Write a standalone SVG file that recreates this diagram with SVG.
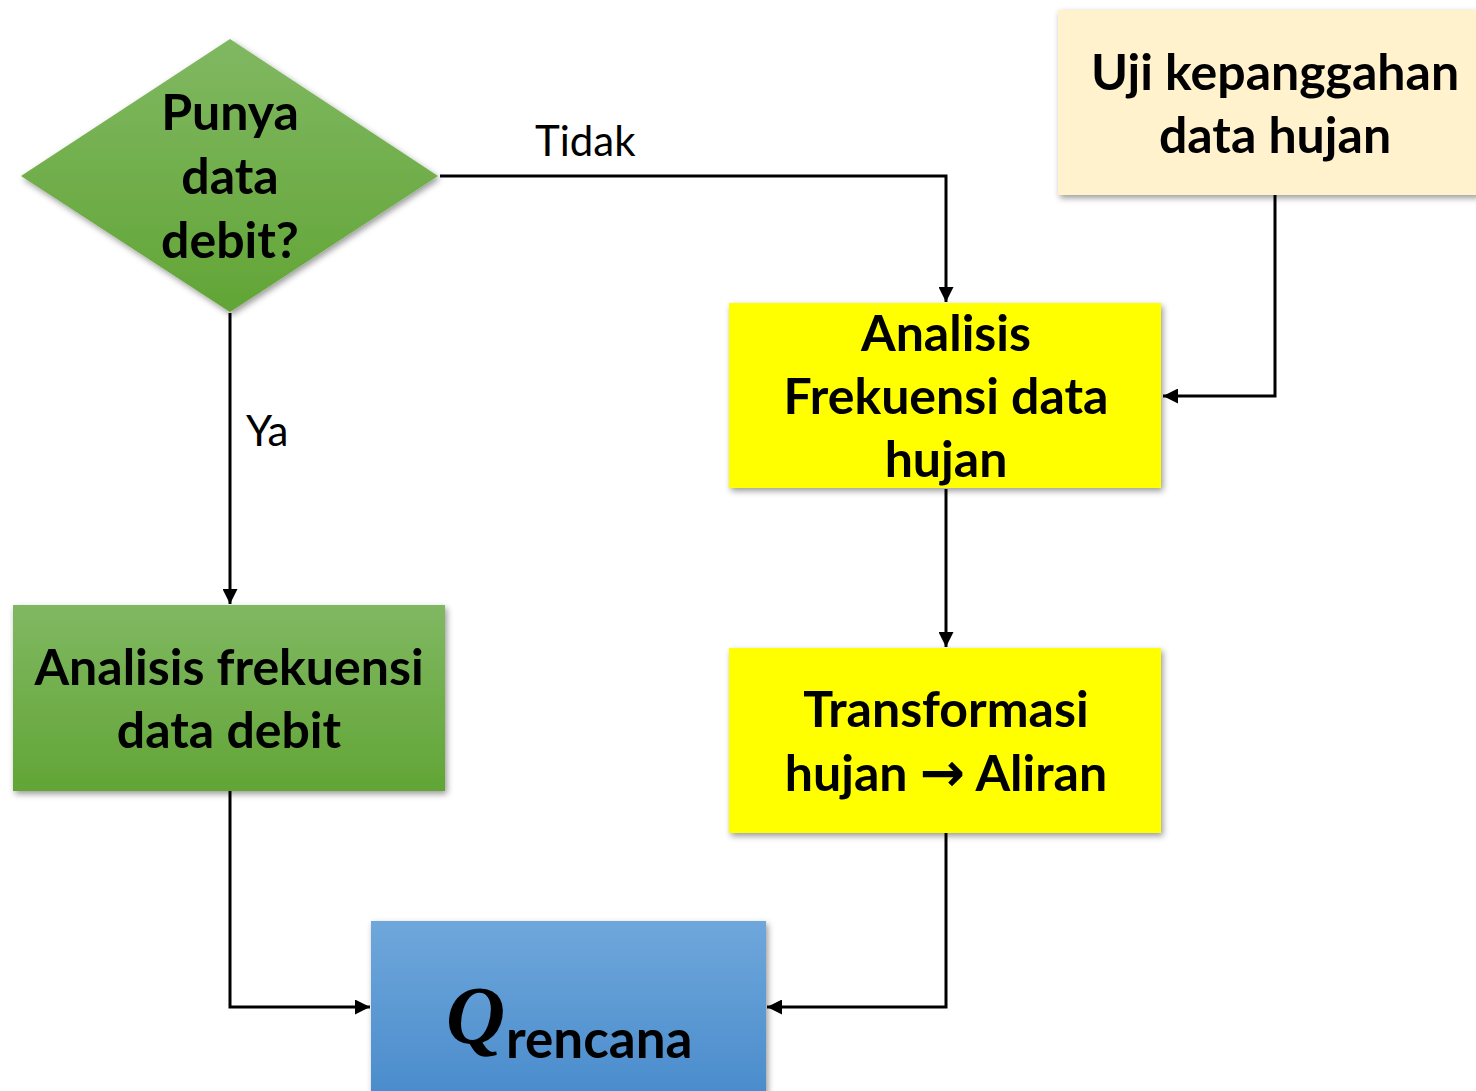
<svg xmlns="http://www.w3.org/2000/svg" width="1476" height="1091" viewBox="0 0 1476 1091">
<style>
.lbl{font-family:Lato,"Open Sans","Liberation Sans",sans-serif;font-weight:700;font-size:50px;fill:#000;text-anchor:middle}
.edge{font-family:Lato,"Open Sans","Liberation Sans",sans-serif;font-size:42px;fill:#000}
.conn{fill:none;stroke:#000;stroke-width:3}
</style>
<defs>
<linearGradient id="gGreen" x1="0" y1="0" x2="0" y2="1"><stop offset="0" stop-color="#80b862"/><stop offset="1" stop-color="#62a536"/></linearGradient>
<linearGradient id="gBlue" x1="0" y1="0" x2="0" y2="1"><stop offset="0" stop-color="#6fa7db"/><stop offset="1" stop-color="#4a8ccc"/></linearGradient>
<filter id="sh" x="-10%" y="-10%" width="125%" height="130%"><feDropShadow dx="2" dy="3" stdDeviation="3" flood-color="#000" flood-opacity="0.4"/></filter>
<marker id="arr" viewBox="0 0 10 10" refX="10" refY="5" markerWidth="5.5" markerHeight="5" orient="auto" markerUnits="strokeWidth"><path d="M0,0 L10,5 L0,10 z" fill="#000"/></marker>
</defs>
<g id="connectors">
<polyline class="conn" points="440,176 946,176 946,302" marker-end="url(#arr)"/>
<polyline class="conn" points="230,313 230,604" marker-end="url(#arr)"/>
<polyline class="conn" points="1275,195 1275,396 1163,396" marker-end="url(#arr)"/>
<polyline class="conn" points="946,489 946,647" marker-end="url(#arr)"/>
<polyline class="conn" points="230,791 230,1007 370,1007" marker-end="url(#arr)"/>
<polyline class="conn" points="946,833 946,1007 767,1007" marker-end="url(#arr)"/>
<text class="edge" x="535" y="156">Tidak</text>
<text class="edge" x="246" y="446">Ya</text>
</g>
<g id="decision">
<polygon points="230,39 438,176 230,312 21,176" fill="url(#gGreen)" filter="url(#sh)"/>
<text class="lbl" x="230" y="130">Punya</text>
<text class="lbl" x="230" y="194">data</text>
<text class="lbl" x="230" y="258">debit?</text>
</g>
<g id="uji">
<rect x="1058" y="10" width="420" height="185" fill="#fff2cc" filter="url(#sh)"/>
<text class="lbl" x="1275" y="90">Uji kepanggahan</text>
<text class="lbl" x="1275" y="153">data hujan</text>
</g>
<g id="analisis-hujan">
<rect x="729" y="303" width="432" height="185" fill="#ffff00" filter="url(#sh)"/>
<text class="lbl" x="946" y="351">Analisis</text>
<text class="lbl" x="946" y="414">Frekuensi data</text>
<text class="lbl" x="946" y="477">hujan</text>
</g>
<g id="transformasi">
<rect x="729" y="648" width="432" height="185" fill="#ffff00" filter="url(#sh)"/>
<text class="lbl" x="946" y="727">Transformasi</text>
<text class="lbl" x="946" y="791">hujan <tspan font-family="'DejaVu Sans',sans-serif" font-size="54">→</tspan> Aliran</text>
</g>
<g id="analisis-debit">
<rect x="13" y="605" width="432" height="186" fill="url(#gGreen)" filter="url(#sh)"/>
<text class="lbl" x="229" y="685">Analisis frekuensi</text>
<text class="lbl" x="229" y="748">data debit</text>
</g>
<g id="q-rencana">
<rect x="371" y="921" width="395" height="175" fill="url(#gBlue)" filter="url(#sh)"/>
<text x="446" y="1043" font-family="'Liberation Serif',serif" font-style="italic" font-weight="700" font-size="82" fill="#000">Q</text>
<text x="506" y="1058" font-family="Lato,'Open Sans','Liberation Sans',sans-serif" font-weight="700" font-size="53" fill="#000">rencana</text>
</g>
</svg>
